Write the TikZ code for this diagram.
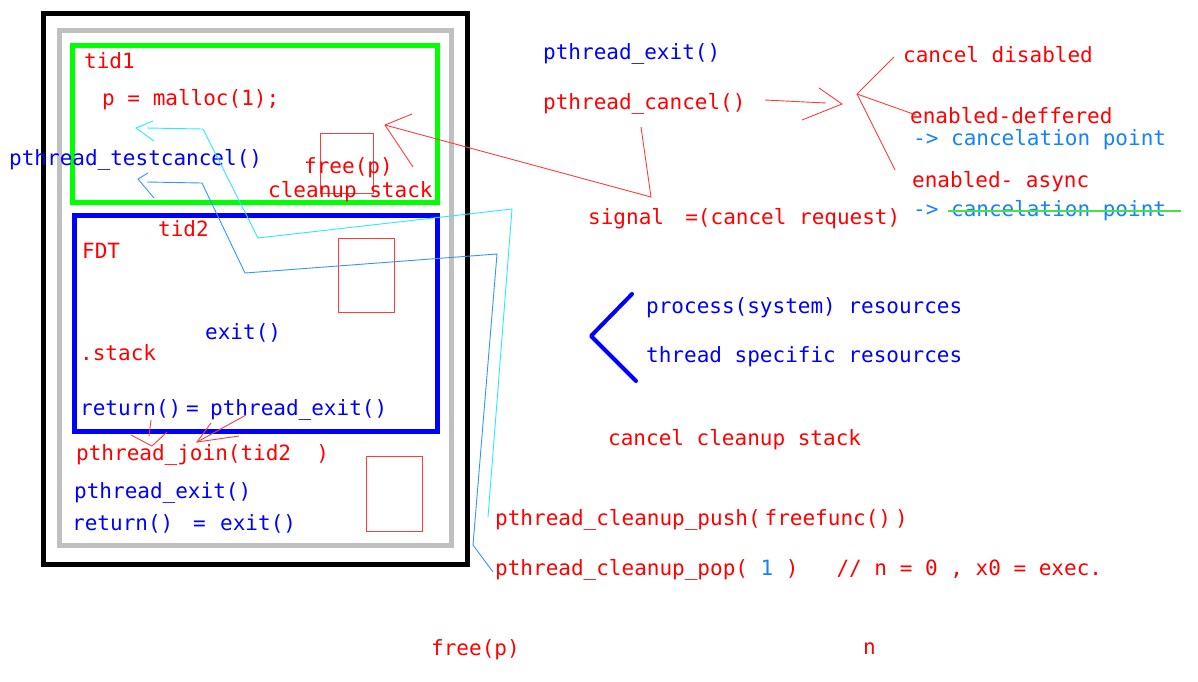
\documentclass[tikz,border=0pt]{standalone}
\usepackage{fontspec}
\newfontfamily\codefont{DejaVu Sans Mono}
\definecolor{ink red}{RGB}{255,0,0}
\definecolor{ink blue}{RGB}{0,0,255}
\definecolor{sky}{RGB}{20,130,255}
\definecolor{pen red}{RGB}{255,60,60}
\definecolor{pen cyan}{RGB}{40,235,255}
\definecolor{pen azure}{RGB}{50,150,255}
\definecolor{pen green}{RGB}{70,225,70}
\definecolor{frame gray}{RGB}{192,192,192}
\definecolor{frame green}{RGB}{0,255,0}
\begin{document}
\begin{tikzpicture}[x=1pt,y=-1pt,
  code/.style={font=\codefont\fontsize{21}{25}\selectfont, inner sep=0pt, anchor=base west},
  rtxt/.style={code, text=ink red},
  btxt/.style={code, text=ink blue},
  stxt/.style={code, text=sky},
  frame/.style={line width=5pt},
  pen/.style={line width=0.9pt, line join=miter},
  memo/.style={draw=pen red, line width=0.9pt}]
\useasboundingbox[fill=white] (0,0) rectangle (1198,681);

% process / thread frames
\draw[frame, black] (43,13) rectangle (467,564);
\draw[frame, frame gray] (59,30) rectangle (451,545);
\draw[frame, frame green] (72,45) rectangle (437,202);
\draw[frame, ink blue] (74,215) rectangle (437,431);

% memory blocks
\draw[memo] (320,133) rectangle (373,193);
\draw[memo] (338,238) rectangle (394,312);
\draw[memo] (366,456) rectangle (422,531);

% texts inside the frames
\node[rtxt] (tid1) at (84,68) {tid1};
\node[rtxt] (malloc) at (102,105) {p = malloc(1);};
\node[btxt] (testcancel) at (9,165.5) {pthread\_testcancel()};
\node[rtxt] (freein) at (304,173.5) {free(p)};
\node[rtxt] (cstack) at (268,197.5) {cleanup stack};
\node[rtxt] (tid2) at (158,236.5) {tid2};
\node[rtxt] (fdt) at (82,258) {FDT};
\node[btxt] (exitin) at (205,339) {exit()};
\node[rtxt] (stack) at (80,360) {.stack};
\node[btxt] (ret1) at (80,415) {return()};
\node[btxt] (eq1) at (186,415) {=};
\node[btxt] (pexit1) at (210,415) {pthread\_exit()};
\node[rtxt] (join) at (76,460.5) {pthread\_join(tid2\ \ )};
\node[btxt] (pexit2) at (74,498) {pthread\_exit()};
\node[btxt] (ret2) at (72,530) {return()};
\node[btxt] (eq2) at (193,530) {=};
\node[btxt] (exit2) at (220,530) {exit()};

% texts on the right
\node[btxt] (pexit3) at (543,59) {pthread\_exit()};
\node[rtxt] (pcancel) at (543,109) {pthread\_cancel()};
\node[rtxt] (disabled) at (903,62) {cancel disabled};
\node[rtxt] (deferred) at (910,123) {enabled-deffered};
\node[stxt] (cpoint1) at (913,145) {-> cancelation point};
\node[rtxt] (async) at (912,187) {enabled- async};
\node[stxt] (cpoint2) at (913,216) {-> cancelation point};
\node[rtxt] (signal) at (588,224) {signal\ \kern-4pt\ =(cancel request)};
\node[btxt] (procres) at (646,313) {process(system) resources};
\node[btxt] (thrres) at (646,362) {thread specific resources};
\node[rtxt] (ccstack) at (608,445) {cancel cleanup stack};
\node[rtxt] (push) at (495,525) {pthread\_cleanup\_push(\kern4pt freefunc()\kern4pt)};
\node[rtxt] (pop) at (495,575) {pthread\_cleanup\_pop( \textcolor{sky}{1} )\ \ \ // n = 0 , x0 = exec.};
\node[rtxt] (freeout) at (431,655) {free(p)};
\node[rtxt] (nlbl) at (863,654) {n};

% strike-through on the async cancelation point
\coordinate (s1) at (948,211);
\coordinate (s2) at (1181,211);
\draw[pen green, line width=2.5pt] (s1) -- (s2);

% pthread_cancel -> cancel states
\coordinate (c0) at (765,100);
\coordinate (c1) at (826,103);
\coordinate (ctip) at (842,104);
\coordinate (ch1) at (819,88);
\coordinate (ch2) at (802,120);
\draw[pen, pen red] (c0) -- (c1);
\draw[pen, pen red] (ch1) -- (ctip) -- (ch2);
\coordinate (fork) at (857,94);
\coordinate (f1) at (894,57);
\coordinate (f2) at (916,115);
\coordinate (f3) at (895,170);
\draw[pen, pen red] (f1) -- (fork) -- (f2);
\draw[pen, pen red] (fork) -- (f3);

% cancel request reaching the cleanup stack
\coordinate (q0) at (641,127);
\coordinate (q1) at (651,197);
\coordinate (qtip) at (385,125);
\coordinate (qh1) at (412,114);
\coordinate (qh2) at (413,167);
\draw[pen, pen red] (q0) -- (q1) -- (qtip);
\draw[pen, pen red] (qh1) -- (qtip) -- (qh2);

% cleanup push / pop links
\coordinate (a0) at (488,517);
\coordinate (a1) at (512,209);
\coordinate (a2) at (258,238);
\coordinate (a3) at (203,129);
\coordinate (a4) at (147,128);
\coordinate (atip) at (136,128);
\coordinate (ah1) at (153,121);
\coordinate (ah2) at (154,141);
\draw[pen, pen cyan] (a0) -- (a1) -- (a2) -- (a3) -- (a4);
\draw[pen, pen cyan] (ah1) -- (atip) -- (ah2);

\coordinate (b0) at (493,572);
\coordinate (b1) at (473,545);
\coordinate (b2) at (497,254);
\coordinate (b3) at (245,273);
\coordinate (b4) at (202,183);
\coordinate (b5) at (147,182);
\coordinate (btip) at (138,179);
\coordinate (bh1) at (148,173);
\coordinate (bh2) at (154,198);
\draw[pen, pen azure] (b0) -- (b1) -- (b2) -- (b3) -- (b4) -- (b5);
\draw[pen, pen azure] (bh1) -- (btip) -- (bh2);

% return / pthread_exit -> pthread_join
\coordinate (j0) at (151,420);
\coordinate (j1) at (149,436);
\coordinate (jtip) at (152,446);
\coordinate (jh1) at (131,435);
\coordinate (jh2) at (167,432);
\draw[pen, pen red] (j0) -- (j1);
\draw[pen, pen red] (jh1) -- (jtip) -- (jh2);
\coordinate (k0) at (246,415);
\coordinate (ktip) at (197,442);
\coordinate (kh1) at (211,423);
\coordinate (kh2) at (239,436);
\draw[pen, pen red] (k0) -- (ktip);
\draw[pen, pen red] (kh1) -- (ktip) -- (kh2);

% resource bracket
\coordinate (r1) at (632,294);
\coordinate (r2) at (591,336);
\coordinate (r3) at (636,381);
\draw[ink blue, line width=4pt, line cap=round, line join=round] (r1) -- (r2) -- (r3);
\end{tikzpicture}
\end{document}
